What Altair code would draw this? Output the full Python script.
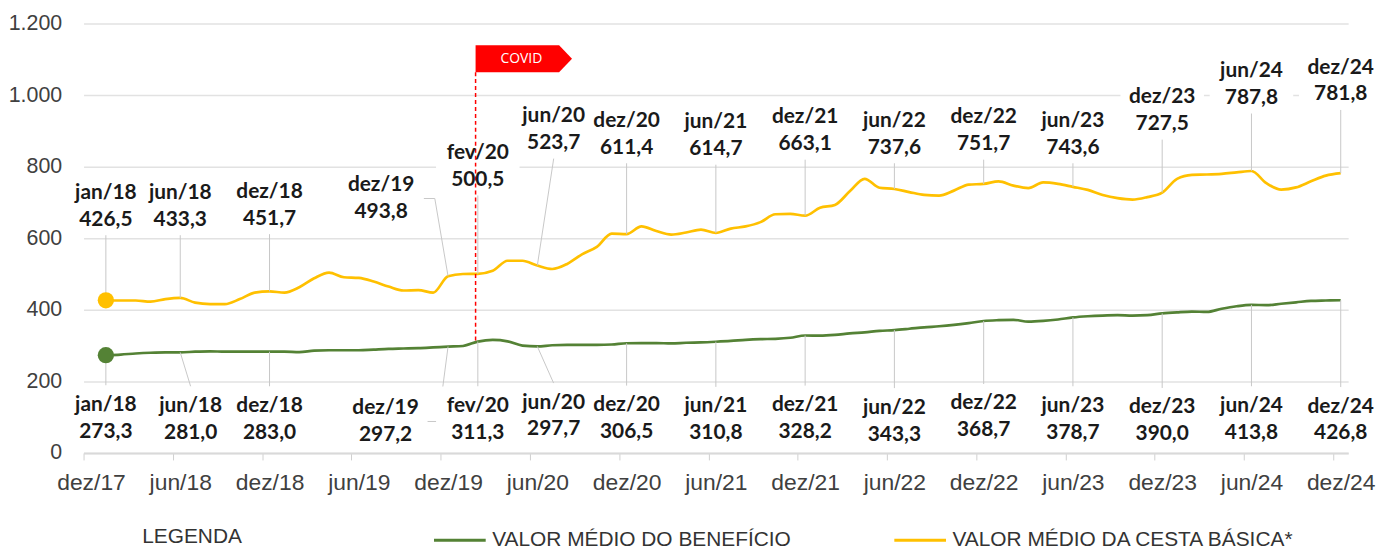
import json
import altair as alt
import pandas as pd

# ---------------- data ----------------
MONTHS_PT = ["jan", "fev", "mar", "abr", "mai", "jun", "jul", "ago", "set", "out", "nov", "dez"]
month_index = list(range(1, 85))  # 1 = jan/18 ... 84 = dez/24
month_names = [f"{MONTHS_PT[(i - 1) % 12]}/{18 + (i - 1) // 12}" for i in month_index]

cesta_basica = [
    426.5, 426, 426, 423, 430, 433.3, 420, 416, 416, 430, 448, 451.7,
    448, 463, 488, 504, 491, 489, 479, 465, 454, 455, 448, 493.8,
    500, 500.5, 509, 537, 537, 523.7, 514, 528, 555, 576, 613, 611.4,
    633, 620, 610, 616, 624, 614.7, 627, 633, 645, 667, 668, 663.1,
    685, 693, 731, 766, 741, 737.6, 729, 721, 719, 733, 750, 751.7,
    759, 747, 740, 756, 752, 743.6, 735, 721, 712, 708, 715, 727.5,
    766, 777, 778, 780, 784, 787.8, 754, 736, 742, 759, 775, 781.8,
]
beneficio = [
    273.3, 275, 278, 280, 281, 281.0, 283, 284, 283, 283, 283, 283.0,
    283, 282, 286, 287, 287, 287, 289, 291, 292, 293, 295, 297.2,
    299, 311.3, 316, 312, 300, 297.7, 301, 302, 302, 302, 303, 306.5,
    307, 307, 306, 308, 309, 310.8, 313, 316, 318, 319, 322, 328.2,
    328, 330, 334, 337, 341, 343.3, 347, 351, 354, 358, 363, 368.7,
    371, 372, 367, 369, 373, 378.7, 382, 384, 385, 384, 385, 390.0,
    393, 395, 394, 403, 410, 413.8, 413, 417, 421, 425, 426, 426.8,
]

SERIES_BEN = "VALOR MÉDIO DO BENEFÍCIO"
SERIES_CESTA = "VALOR MÉDIO DA CESTA BÁSICA*"
LEGEND_TITLE = "LEGENDA"
COLOR_BEN = "#548235"
COLOR_CESTA = "#FFC000"

x_tick_values = list(range(0, 85, 6))
x_tick_labels = ["dez/17", "jun/18", "dez/18", "jun/19", "dez/19", "jun/20", "dez/20", "jun/21",
                 "dez/21", "jun/22", "dez/22", "jun/23", "dez/23", "jun/24", "dez/24"]
y_tick_values = [0, 200, 400, 600, 800, 1000, 1200]

annot_months = [1, 6, 12, 24, 26, 30, 36, 42, 48, 54, 60, 66, 72, 78, 84]
# label placement (x in months, y in chart units)
upper_label_x = [1, 6, 12, 19.5, 26, 31.1, 36, 42, 48, 54, 60, 66, 72, 78, 84]
upper_label_y = [689, 689, 692, 711, 800, 903, 890, 886, 900, 890, 900, 890, 956, 1029, 1039]
lower_label_x = [1, 6.7, 12, 19.8, 26, 31.1, 36, 42, 48, 54, 60, 66, 72, 78, 84]
lower_label_y = [97, 94, 94, 88, 94, 103, 96, 93, 96, 89, 101, 94, 90, 94, 92]

covid_month = 25.85
covid_label = "COVID"

# ---------------- layout ----------------
W, H = 1272, 432
X_DOMAIN = [-0.5, 84.5]
Y_DOMAIN = [0, 1200]
PXM = W / (X_DOMAIN[1] - X_DOMAIN[0])   # px per month
PXU = H / (Y_DOMAIN[1] - Y_DOMAIN[0])   # px per unit

AX_FONT = "Liberation Sans"
LBL_FONT = "Lato"


def fmt(v):
    return f"{v:.1f}".replace(".", ",")


x_axis = alt.Axis(
    values=x_tick_values,
    labelExpr=f"{json.dumps(x_tick_labels)}[round(datum.value / 6)]",
    grid=False, title=None,
    tickOffset=-PXM / 2, labelOffset=PXM / 2,
    tickSize=7, tickColor="#d0d0d0", tickWidth=1,
    domainColor="#d9d9d9", domainWidth=2,
    labelFont=AX_FONT, labelFontSize=23, labelColor="#404040", labelPadding=12,
    labelFlush=False, labelOverlap=False,
)
y_axis = alt.Axis(
    values=y_tick_values,
    labelExpr="replace(format(datum.value, ','), ',', '.')",
    domain=False, ticks=False, title=None,
    grid=True, gridColor="#e2e2e2", gridWidth=1.5,
    labelFont=AX_FONT, labelFontSize=21.5, labelColor="#404040", labelPadding=22,
)


def X(field="m"):
    return alt.X(f"{field}:Q", scale=alt.Scale(domain=X_DOMAIN, nice=False, zero=False), axis=x_axis)


def Y(field="v"):
    return alt.Y(f"{field}:Q", scale=alt.Scale(domain=Y_DOMAIN, nice=False, zero=False), axis=y_axis)


def X2(field):
    return alt.X2(f"{field}:Q")


def Y2(field):
    return alt.Y2(f"{field}:Q")


# line data
rows = []
for i, m in enumerate(month_index):
    rows.append({"m": m, "v": beneficio[i], "series": SERIES_BEN})
    rows.append({"m": m, "v": cesta_basica[i], "series": SERIES_CESTA})
lines_df = pd.DataFrame(rows)

dots_df = pd.DataFrame([
    {"m": 1, "v": beneficio[0], "series": SERIES_BEN},
    {"m": 1, "v": cesta_basica[0], "series": SERIES_CESTA},
])

# labels, boxes, leaders
lab_rows, box_up, box_lo, lead_rows = [], [], [], []
for k, m in enumerate(annot_months):
    # upper (cesta)
    lx, ly = upper_label_x[k], upper_label_y[k]
    lab_rows.append({"m": lx, "v": ly, "mon": month_names[m - 1], "val": fmt(cesta_basica[m - 1])})
    top, bot = (46, 57) if m == 26 else (30, 30)
    box_up.append({"m": lx - 42 / PXM, "m2": lx + 42 / PXM, "v": ly + top / PXU, "v2": ly - bot / PXU})
    pts = [(m, cesta_basica[m - 1])]
    if m == 24:
        pts += [(lx + 54 / PXM, ly), (lx + 43 / PXM, ly)]
    else:
        pts += [(lx, ly - 29 / PXU)]
    for o, (px, py) in enumerate(pts):
        lead_rows.append({"id": f"u{m}", "o": o, "m": px, "v": py})
    # lower (beneficio)
    lx, ly = lower_label_x[k], lower_label_y[k]
    lab_rows.append({"m": lx, "v": ly, "mon": month_names[m - 1], "val": fmt(beneficio[m - 1])})
    box_lo.append({"m": lx - 42 / PXM, "m2": lx + 42 / PXM, "v": ly + 33 / PXU, "v2": ly - 25 / PXU})
    pts = [(m, beneficio[m - 1])]
    if m == 24:
        pts += [(lx + 53 / PXM, ly), (lx + 42 / PXM, ly)]
    else:
        pts += [(lx, ly + 33 / PXU)]
    for o, (px, py) in enumerate(pts):
        lead_rows.append({"id": f"l{m}", "o": o, "m": px, "v": py})

labels_df = pd.DataFrame(lab_rows)
box_up_df = pd.DataFrame(box_up)
box_lo_df = pd.DataFrame(box_lo)
leaders_df = pd.DataFrame(lead_rows)

# covid marker
flag_bottom = 1064
flag_h = 27 / PXU
covid_df = pd.DataFrame([{"m": covid_month, "v": flag_bottom, "v2": beneficio[25]}])
flag_df = pd.DataFrame([
    {"m": covid_month, "v": flag_bottom + flag_h, "v2": flag_bottom},
    {"m": covid_month + 84 / PXM, "v": flag_bottom + flag_h, "v2": flag_bottom},
    {"m": covid_month + 97 / PXM, "v": flag_bottom + flag_h / 2, "v2": flag_bottom + flag_h / 2},
])
flag_text_df = pd.DataFrame([{"m": covid_month + 46 / PXM, "v": flag_bottom + flag_h / 2, "t": covid_label}])

# ---------------- chart ----------------
color = alt.Color(
    "series:N",
    scale=alt.Scale(domain=[SERIES_BEN, SERIES_CESTA], range=[COLOR_BEN, COLOR_CESTA]),
    legend=alt.Legend(
        title=None, orient="none", direction="horizontal",
        legendX=351, legendY=492,
        labelFont=AX_FONT, labelFontSize=21, labelColor="#333333", labelOffset=5, labelLimit=0,
        symbolType="stroke", symbolSize=2704, symbolStrokeWidth=3, columnPadding=97,
    ),
)

lines = alt.Chart(lines_df).mark_line(strokeWidth=2.7, interpolate="monotone").encode(
    x=X("m"), y=Y("v"), color=color, detail="series:N"
)

boxes_up = alt.Chart(box_up_df).mark_rect(fill="white").encode(
    x=X("m"), x2=X2("m2"), y=Y("v"), y2=Y2("v2")
)
boxes_lo = alt.Chart(box_lo_df).mark_rect(fill="white").encode(
    x=X("m"), x2=X2("m2"), y=Y("v"), y2=Y2("v2")
)
leaders = alt.Chart(leaders_df).mark_line(color="#c8c8c8", strokeWidth=1).encode(
    x=X("m"), y=Y("v"), detail="id:N", order="o:Q"
)
covid_line = alt.Chart(covid_df).mark_rule(color="#ff0000", strokeWidth=1.5, strokeDash=[4, 3]).encode(
    x=X("m"), y=Y("v"), y2=Y2("v2")
)
flag = alt.Chart(flag_df).mark_area(color="#ff0000", opacity=1, interpolate="linear").encode(
    x=X("m"), y=Y("v"), y2=Y2("v2")
)
flag_text = alt.Chart(flag_text_df).mark_text(
    color="white", font="Open Sans", fontSize=14, align="center", baseline="middle"
).encode(x=X("m"), y=Y("v"), text="t:N")

dots = alt.Chart(dots_df).mark_circle(size=270, opacity=1).encode(
    x=X("m"), y=Y("v"),
    fill=alt.Fill("series:N", scale=alt.Scale(domain=[SERIES_BEN, SERIES_CESTA], range=[COLOR_BEN, COLOR_CESTA]), legend=None),
)

txt_kw = dict(font=LBL_FONT, fontSize=21, fontWeight="bold", color="#1a1a1a", align="center", baseline="middle")
lab_mon = alt.Chart(labels_df).mark_text(dy=-13.5, **txt_kw).encode(x=X("m"), y=Y("v"), text="mon:N")
lab_val = alt.Chart(labels_df).mark_text(dy=13.5, **txt_kw).encode(x=X("m"), y=Y("v"), text="val:N")

legend_title = alt.Chart(pd.DataFrame([{"t": LEGEND_TITLE}])).mark_text(
    font=AX_FONT, fontSize=21, color="#333333", align="left", baseline="middle"
).encode(x=alt.value(59), y=alt.value(517), text="t:N")

chart = alt.layer(
    lines, boxes_up, leaders, boxes_lo, covid_line, dots, lab_mon, lab_val, flag, flag_text, legend_title
).properties(
    width=W, height=H,
    autosize=alt.AutoSizeParams(type="none"),
    padding={"left": 76, "top": 14, "right": 28, "bottom": 94},
).resolve_scale(fill="independent").configure(background="white").configure_view(
    strokeWidth=0, stroke="transparent"
).configure_axisY(domain=False, ticks=False)

chart.save("out.html", embed_options={"renderer": "svg", "actions": False})
